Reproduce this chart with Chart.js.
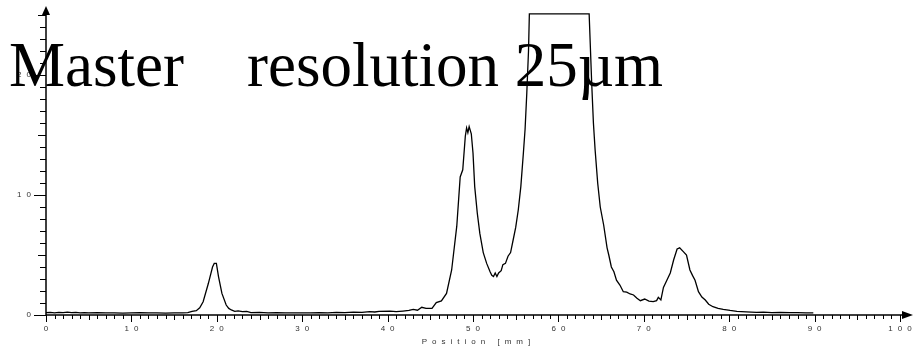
<!DOCTYPE html>
<html><head><meta charset="utf-8">
<script src="https://cdn.jsdelivr.net/npm/chart.js@4.4.1/dist/chart.umd.min.js"></script>
<style>html,body{margin:0;padding:0;background:#fff;}canvas{display:block;}</style>
</head><body>
<canvas id="c" width="913" height="349"></canvas>
<script>
const titleText = 'Master    resolution 25\u00b5m';
const xAxisTitle = 'Position [mm]';
const xTickValues = [0, 10, 20, 30, 40, 50, 60, 70, 80, 90, 100];
const yTickValues = [0, 10, 20];
const xRange = [0, 100];
const yRange = [0, 25.5];

const positionMm = [
  0, 0.5, 1, 1.5, 2, 2.5, 3, 3.5, 4, 4.5, 5, 6, 7, 8, 9, 10, 11, 12, 13, 14, 15, 16, 16.6,
  17.1, 17.6, 18.0, 18.4, 19.0, 19.5, 19.7, 19.95, 20.2, 20.6, 21.1, 21.4, 21.7, 22.1, 22.5, 23.0, 23.5,
  24, 25, 26, 27, 28, 29, 30, 31, 32, 33, 34, 35, 36, 37, 37.9, 38.5, 39, 40.3, 41, 41.8, 42.5,
  43.0, 43.5, 44.0, 44.5, 45.2, 45.7, 46.3, 46.9, 47.5, 48.1, 48.5, 48.8, 49.1, 49.25, 49.4, 49.55,
  49.8, 50.0, 50.2, 50.5, 50.8, 51.2, 51.6, 52.0, 52.2, 52.4, 52.6, 52.8, 53.0, 53.3, 53.5, 53.8,
  54.1, 54.4, 54.7, 55.0, 55.3, 55.6, 55.9, 56.1, 56.3, 56.5, 56.6, 63.6, 63.9, 64.1, 64.3, 64.6,
  64.9, 65.3, 65.7, 65.9, 66.2, 66.5, 66.8, 67.2, 67.6, 68.0, 68.4, 68.8, 69.2, 69.6, 70.1, 70.6,
  71.1, 71.5, 71.7, 72.0, 72.3, 72.7, 73.1, 73.5, 73.9, 74.2, 74.6, 75.0, 75.4, 75.7, 76.0, 76.4,
  76.8, 77.2, 77.6, 78.1, 78.7, 79.3, 80.1, 80.9, 82, 83.2, 84, 85, 86, 87.1, 88, 89, 89.85
];
const signal = [
  0.2, 0.22, 0.18, 0.22, 0.2, 0.24, 0.2, 0.22, 0.18, 0.2, 0.17, 0.2, 0.17, 0.18, 0.15, 0.18, 0.2, 0.17, 0.18, 0.15, 0.17, 0.18, 0.2,
  0.3, 0.36, 0.6, 1.1, 2.6, 4.0, 4.3, 4.3, 3.2, 1.8, 0.83, 0.55, 0.42, 0.3, 0.35, 0.28, 0.3,
  0.2, 0.22, 0.18, 0.2, 0.18, 0.17, 0.18, 0.17, 0.2, 0.18, 0.22, 0.2, 0.24, 0.22, 0.28, 0.25, 0.3, 0.33, 0.28, 0.33, 0.38,
  0.47, 0.4, 0.64, 0.55, 0.55, 1.03, 1.17, 1.8, 3.75, 7.4, 11.5, 12.1, 14.9, 15.6, 15.2, 15.7,
  15.1, 13.5, 10.7, 8.5, 6.8, 5.2, 4.3, 3.6, 3.3, 3.2, 3.5, 3.2, 3.5, 3.7, 4.2, 4.3,
  4.9, 5.2, 6.25, 7.3, 8.75, 10.7, 13.5, 15.5, 18.5, 22, 25.1, 25.1, 19.3, 16, 13.75, 11,
  9.0, 7.5, 5.6, 5.0, 4.0, 3.6, 2.9, 2.5, 1.94, 1.9, 1.75, 1.67, 1.4, 1.19, 1.33, 1.15,
  1.11, 1.2, 1.47, 1.25, 2.3, 2.9, 3.5, 4.6, 5.5, 5.6, 5.3, 5.0, 3.75, 3.3, 2.9, 1.94,
  1.5, 1.25, 0.9, 0.69, 0.55, 0.47, 0.38, 0.31, 0.26, 0.22, 0.24, 0.2, 0.22, 0.19, 0.2, 0.18, 0.17
];

const points = positionMm.map((x, i) => ({x: x, y: signal[i]}));
const LS = '5px';
const labelFont = {family: 'Arial, "Liberation Sans", sans-serif', size: 8};

const spacingPlugin = {
  id: 'spacing',
  beforeUpdate(chart) { chart.ctx.letterSpacing = LS; },
  beforeLayout(chart) { chart.ctx.letterSpacing = LS; },
  beforeDraw(chart) { chart.ctx.letterSpacing = LS; }
};

const axesPlugin = {
  id: 'axesArrows',
  afterDatasetsDraw(chart) {
    const ctx = chart.ctx;
    const xs = chart.scales.x, ys = chart.scales.y;
    const x0 = xs.getPixelForValue(0), y0 = ys.getPixelForValue(0);
    ctx.save();
    ctx.strokeStyle = '#000';
    ctx.fillStyle = '#000';
    ctx.lineWidth = 1.5;
    ctx.beginPath();
    ctx.moveTo(x0, y0); ctx.lineTo(905, y0);
    ctx.moveTo(x0, y0); ctx.lineTo(x0, 13);
    ctx.stroke();
    ctx.beginPath();
    ctx.moveTo(913, y0); ctx.lineTo(902, y0 - 4); ctx.lineTo(902, y0 + 4); ctx.closePath();
    ctx.fill();
    ctx.beginPath();
    ctx.moveTo(x0, 6); ctx.lineTo(x0 - 4, 15); ctx.lineTo(x0 + 4, 15); ctx.closePath();
    ctx.fill();
    ctx.lineWidth = 1;
    ctx.beginPath();
    for (let v = xRange[0]; v <= xRange[1]; v++) {
      const px = Math.round(xs.getPixelForValue(v)) + 0.5;
      const len = v % 10 === 0 ? 7 : (v % 5 === 0 ? 5 : 4);
      ctx.moveTo(px, y0); ctx.lineTo(px, y0 + len);
    }
    for (let v = 0; v <= 25; v++) {
      const py = Math.round(ys.getPixelForValue(v)) + 0.5;
      const len = v % 10 === 0 ? 12 : (v % 5 === 0 ? 8 : 6);
      ctx.moveTo(x0, py); ctx.lineTo(x0 - len, py);
    }
    ctx.stroke();
    ctx.letterSpacing = LS;
    ctx.font = '8px Arial, "Liberation Sans", sans-serif';
    ctx.fillStyle = '#333';
    ctx.textAlign = 'left';
    ctx.textBaseline = 'middle';
    const w = ctx.measureText(xAxisTitle).width - 5;
    const cx = (xs.getPixelForValue(xRange[0]) + xs.getPixelForValue(xRange[1])) / 2 + 3;
    ctx.fillText(xAxisTitle, cx - w / 2, 342);
    ctx.letterSpacing = '0px';
    ctx.fillStyle = '#000';
    ctx.font = '63px "Liberation Serif", "Times New Roman", serif';
    ctx.textBaseline = 'alphabetic';
    ctx.fillText(titleText, 9, 86);
    ctx.restore();
  }
};

new Chart(document.getElementById('c'), {
  type: 'line',
  data: {
    datasets: [{
      data: points,
      borderColor: '#000',
      borderWidth: 1.3,
      pointRadius: 0,
      tension: 0,
      fill: false,
      clip: false
    }]
  },
  options: {
    responsive: false,
    animation: false,
    events: [],
    layout: {padding: {left: 0, right: 13, top: 9, bottom: 0}},
    plugins: {legend: {display: false}, tooltip: {enabled: false}, title: {display: false}},
    scales: {
      x: {
        type: 'linear', min: xRange[0], max: xRange[1],
        grid: {display: false, drawTicks: false, tickLength: 0}, border: {display: false},
        afterBuildTicks(s) { s.ticks = xTickValues.map(v => ({value: v})); },
        ticks: {autoSkip: false, maxRotation: 0, padding: 9, labelOffset: 2.5, color: '#333', font: labelFont},
        afterFit(s) { s.height = 34; s.paddingLeft = 0; s.paddingRight = 0; }
      },
      y: {
        min: yRange[0], max: yRange[1],
        grid: {display: false, drawTicks: false, tickLength: 0}, border: {display: false},
        afterBuildTicks(s) { s.ticks = yTickValues.map(v => ({value: v})); },
        ticks: {padding: 10, color: '#333', font: labelFont},
        afterFit(s) { s.width = 46; s.paddingTop = 0; s.paddingBottom = 0; }
      }
    }
  },
  plugins: [spacingPlugin, axesPlugin]
});
</script>
</body></html>
